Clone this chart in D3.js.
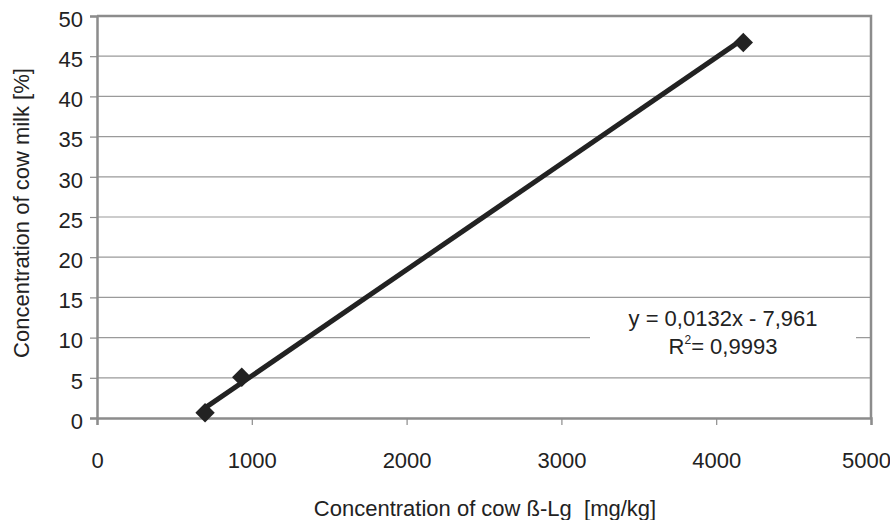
<!DOCTYPE html>
<html>
<head>
<meta charset="utf-8">
<script src="https://cdn.jsdelivr.net/npm/d3@7"></script>
<style>
  body { margin: 0; background: #fff; }
  text { font-family: 'Liberation Sans', Arial, sans-serif; fill: #222; }
</style>
</head>
<body>
<div id="chart"></div>
<script>
// measured points (beta-Lg mg/kg vs cow milk %)
const xValues = [698, 935, 4175];
const yValues = [0.66, 5.06, 46.7];
const xTicks = [0, 1000, 2000, 3000, 4000, 5000];
const yTicks = [0, 5, 10, 15, 20, 25, 30, 35, 40, 45, 50];
const slope = 0.0132;
const intercept = -7.961;
const eqLine = 'y = 0,0132x - 7,961';
const r2Value = '= 0,9993';

const width = 890, height = 520;
const margin = {top: 16, right: 19, bottom: 102, left: 97};
const fontSize = '22px';

const svg = d3.select('#chart').append('svg')
    .attr('width', width)
    .attr('height', height);

const x = d3.scaleLinear().domain([0, 5000]).range([margin.left, width - margin.right]);
const y = d3.scaleLinear().domain([0, 50]).range([height - margin.bottom, margin.top]);

// grid lines
svg.append('g')
    .selectAll('line')
    .data(yTicks.filter(d => d > 0 && d < 50))
    .join('line')
    .attr('x1', x(0)).attr('x2', x(5000))
    .attr('y1', d => y(d)).attr('y2', d => y(d))
    .attr('stroke', '#9a9a9a')
    .attr('stroke-width', 1.2);

// equation box (white background hides grid)
const ex = 723;
svg.append('rect')
    .attr('x', 590).attr('y', y(14.7))
    .attr('width', 266).attr('height', y(5.3) - y(14.7))
    .attr('fill', '#fff');

// frame: top and right
svg.append('path')
    .attr('d', `M${x(0)},${y(50)}H${x(5000)}V${y(0)}`)
    .attr('fill', 'none')
    .attr('stroke', '#8c8c8c')
    .attr('stroke-width', 2.5);

// axes
const xAxis = svg.append('g')
    .attr('transform', `translate(0,${y(0)})`)
    .call(d3.axisBottom(x).tickValues(xTicks).tickSize(7).tickPadding(27).tickFormat(d3.format('d')));
const yAxis = svg.append('g')
    .attr('transform', `translate(${x(0)},0)`)
    .call(d3.axisLeft(y).tickValues(yTicks).tickSize(7).tickPadding(7));

[xAxis, yAxis].forEach(g => {
    g.select('.domain').attr('stroke', '#8c8c8c').attr('stroke-width', 2.5);
    g.selectAll('.tick line').attr('stroke', '#8c8c8c').attr('stroke-width', 1.2);
    g.selectAll('.tick text')
        .style('font-family', "'Liberation Sans', Arial, sans-serif")
        .style('font-size', fontSize)
        .attr('fill', '#222');
});
yAxis.selectAll('.tick text').attr('dy', '0.47em');
// last label sits at the right edge
xAxis.selectAll('.tick text').filter(d => d === 5000).attr('dx', -5);

// trend line
const xMin = d3.min(xValues), xMax = d3.max(xValues);
svg.append('line')
    .attr('x1', x(xMin)).attr('y1', y(slope * xMin + intercept))
    .attr('x2', x(xMax)).attr('y2', y(slope * xMax + intercept))
    .attr('stroke', '#222')
    .attr('stroke-width', 5);

// markers
svg.append('g')
    .selectAll('path')
    .data(xValues.map((d, i) => [d, yValues[i]]))
    .join('path')
    .attr('transform', d => `translate(${x(d[0])},${y(d[1])})`)
    .attr('d', d3.symbol().type(d3.symbolDiamond2).size(240))
    .attr('fill', '#222');

// equation text
svg.append('text')
    .attr('x', ex).attr('y', 326)
    .attr('text-anchor', 'middle')
    .style('font-size', fontSize)
    .text(eqLine);
const r2 = svg.append('text')
    .attr('x', ex).attr('y', 354)
    .attr('text-anchor', 'middle')
    .style('font-size', fontSize);
r2.append('tspan').text('R');
r2.append('tspan').attr('dy', -10).style('font-size', '12px').text('2');
r2.append('tspan').attr('dy', 10).text(r2Value);

// axis titles
svg.append('text')
    .attr('x', 485).attr('y', 516)
    .attr('text-anchor', 'middle')
    .attr('xml:space', 'preserve')
    .style('font-size', fontSize)
    .text('Concentration of cow ß-Lg  [mg/kg]');

svg.append('text')
    .attr('transform', 'translate(29,213) rotate(-90)')
    .attr('text-anchor', 'middle')
    .style('font-size', fontSize)
    .text('Concentration of cow milk [%]');
</script>
</body>
</html>
